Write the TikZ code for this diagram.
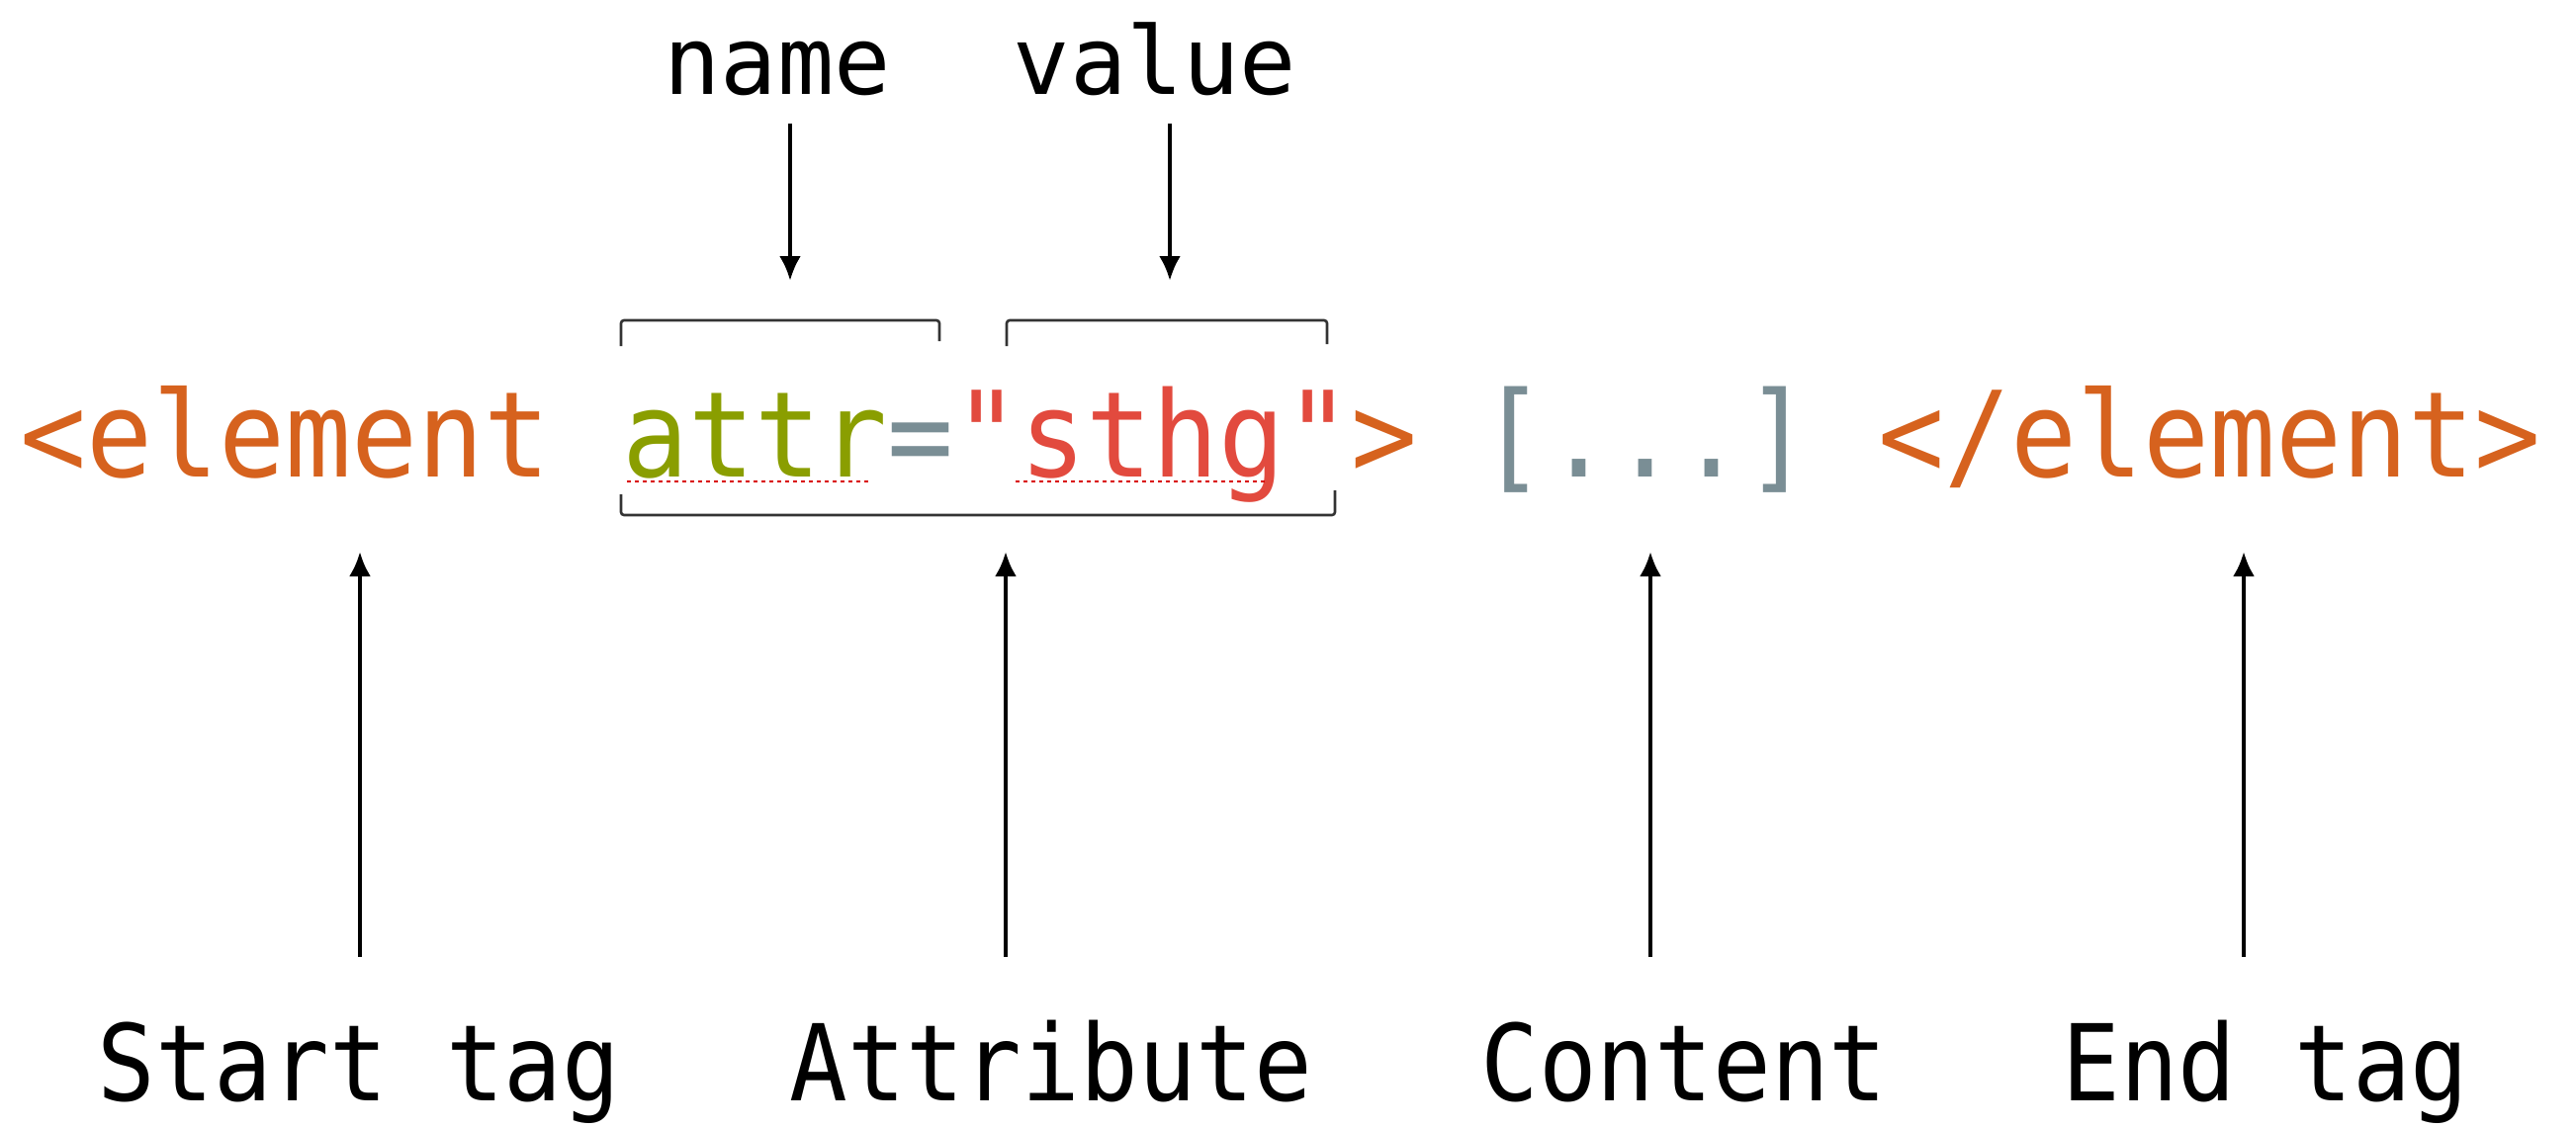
\documentclass[tikz,border=0pt]{standalone}
\usepackage{fontspec}
\setmonofont{DejaVu Sans Mono}
\newfontfamily\codefont[FakeStretch=0.925]{DejaVu Sans Mono}
\newfontfamily\lblfont[FakeStretch=0.91]{DejaVu Sans Mono}
\usetikzlibrary{arrows.meta}
\definecolor{tagc}{HTML}{D6621E}
\definecolor{attrc}{HTML}{8A9E00}
\definecolor{valc}{HTML}{E24A3E}
\definecolor{grayc}{HTML}{7A8E95}
\definecolor{brkc}{HTML}{333333}
\begin{document}
\begin{tikzpicture}[x=0.5pt,y=-0.5pt,
  arr/.style={line width=2.1pt,-{Latex[length=12.5pt,width=11pt]}},
  brk/.style={line width=1.3pt,draw=brkc,rounded corners=1.5pt},
  code/.style={font=\fontsize{60.2}{64}\codefont,inner sep=0pt,anchor=base west},
  toplbl/.style={font=\fontsize{47.6}{55}\selectfont\ttfamily,inner sep=0pt,anchor=base},
  botlbl/.style={font=\fontsize{53.6}{60}\lblfont,inner sep=0pt,anchor=base},
  squig/.style={draw=red!85!black,line width=1pt,dash pattern=on 2pt off 2pt}]
\useasboundingbox (0,0) rectangle (2605,1140);
% code line
\node[code,text=tagc] (open) at (20,482) {<element};
\node[code] (attr) at (629,482) {\color{attrc}attr\color{grayc}=\color{valc}"sthg"\color{tagc}>};
\node[code,text=grayc] (body) at (1496,482) {[...]};
\node[code,text=tagc] (close) at (1899,482) {</element>};
% spell-check underlines
\draw[squig] (634,487) -- (880,487);
\draw[squig] (1027,487) -- (1282,487);
% top labels
\node[toplbl] (name) at (786,95) {name};
\node[toplbl] (value) at (1168,95) {value};
% brackets
\draw[brk] (628,350) -- (628,324) -- (950,324) -- (950,345);
\draw[brk] (1018,350) -- (1018,324) -- (1342,324) -- (1342,348);
\draw[brk] (628,500) -- (628,521) -- (1350,521) -- (1350,496);
% arrow coordinates
\coordinate (nameS) at (799,125);
\coordinate (nameE) at (799,284);
\coordinate (valueS) at (1183,125);
\coordinate (valueE) at (1183,284);
\draw[arr] (nameS) -- (nameE);
\draw[arr] (valueS) -- (valueE);
% bottom labels
\node[botlbl] (stag) at (363,1113) {Start tag};
\node[botlbl] (attrib) at (1063,1113) {Attribute};
\node[botlbl] (content) at (1703,1113) {Content};
\node[botlbl] (etag) at (2291,1113) {End tag};
\coordinate (s1) at (364,968); \coordinate (e1) at (364,558);
\coordinate (s2) at (1017,968); \coordinate (e2) at (1017,558);
\coordinate (s3) at (1669,968); \coordinate (e3) at (1669,558);
\coordinate (s4) at (2269,968); \coordinate (e4) at (2269,558);
\draw[arr] (s1) -- (e1);
\draw[arr] (s2) -- (e2);
\draw[arr] (s3) -- (e3);
\draw[arr] (s4) -- (e4);
\end{tikzpicture}
\end{document}
